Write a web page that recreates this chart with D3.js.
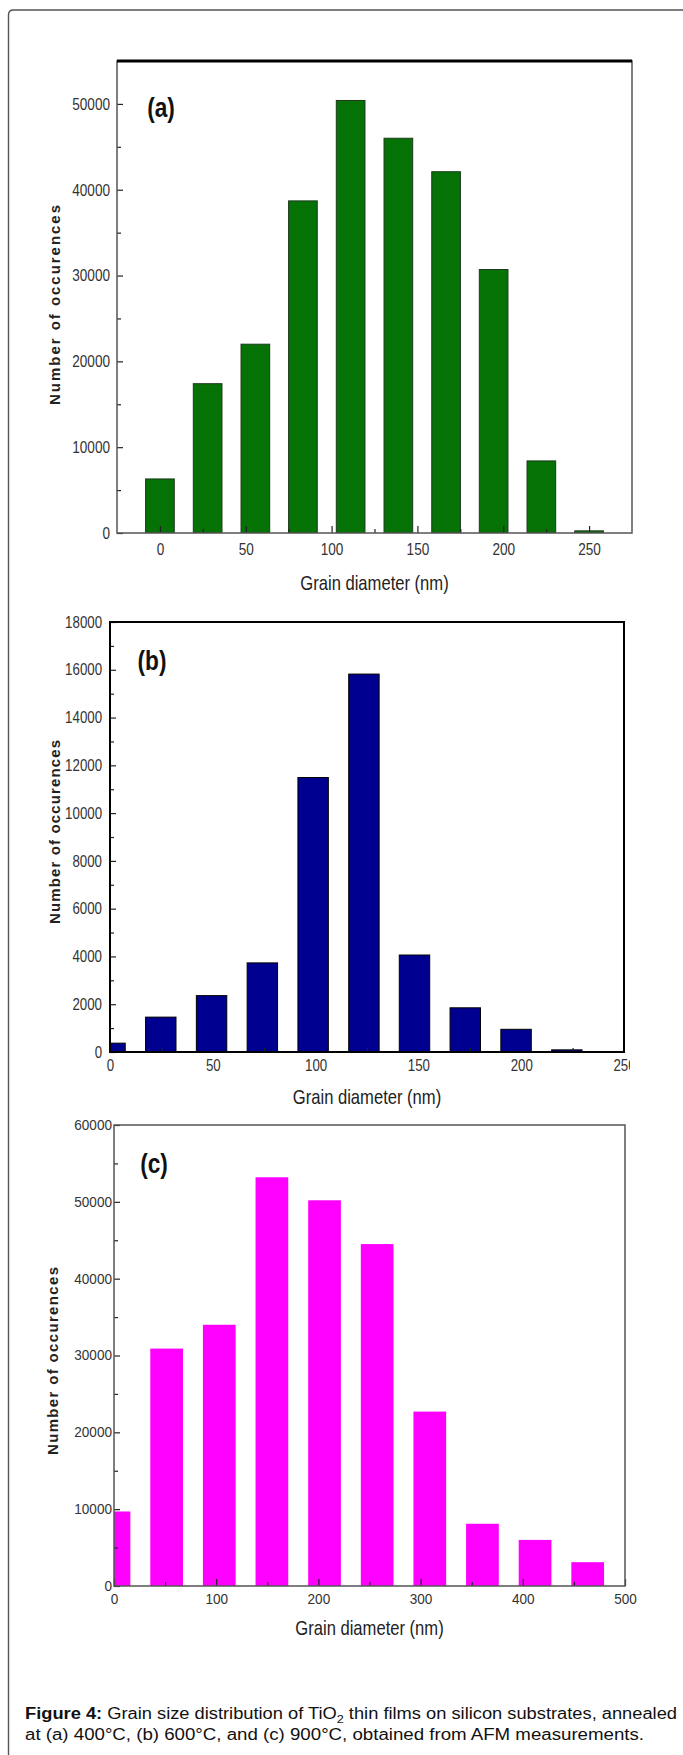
<!DOCTYPE html>
<html>
<head>
<meta charset="utf-8">
<script src="https://cdn.jsdelivr.net/npm/d3@7"></script>
<style>
  body { margin: 0; background: #fff; }
  svg { display: block; }
</style>
</head>
<body>
<div id="chart"></div>
<script>
// ---- data ----
var xA = [0, 27.8, 55.6, 83.3, 111.1, 138.9, 166.7, 194.4, 222.2, 250];
var countsA = [6300, 17400, 22000, 38700, 50400, 46000, 42100, 30700, 8400, 250];
var xTicksA = [0, 50, 100, 150, 200, 250];
var xMinorA = [25, 75, 125, 175, 225];
var yTicksA = [0, 10000, 20000, 30000, 40000, 50000];
var yMinorA = [5000, 15000, 25000, 35000, 45000];

var xB = [0, 24.7, 49.4, 74.1, 98.8, 123.5, 148.1, 172.8, 197.5, 222.2];
var countsB = [370, 1460, 2360, 3730, 11490, 15820, 4060, 1850, 950, 90];
var xTicksB = [0, 50, 100, 150, 200, 250];
var xMinorB = [25, 75, 125, 175, 225];
var yTicksB = [0, 2000, 4000, 6000, 8000, 10000, 12000, 14000, 16000, 18000];
var yMinorB = [1000, 3000, 5000, 7000, 9000, 11000, 13000, 15000, 17000];

var xC = [0, 51.5, 103, 154.5, 206, 257.5, 309, 360.5, 412, 463.5];
var countsC = [9700, 30900, 34000, 53200, 50200, 44500, 22700, 8100, 6000, 3100];
var xTicksC = [0, 100, 200, 300, 400, 500];
var xMinorC = [50, 150, 250, 350, 450];
var yTicksC = [0, 10000, 20000, 30000, 40000, 50000, 60000];
var yMinorC = [5000, 15000, 25000, 35000, 45000, 55000];

var font = "'Liberation Sans', Arial, sans-serif";

var W = 683, H = 1755;
var svg = d3.select('#chart').append('svg')
	.attr('width', W)
	.attr('height', H);

// no narrow face installed, so squeeze glyphs horizontally (keeps the anchor point)
function squeeze(sel, k) {
	sel.each(function() {
		var x = +this.getAttribute('x') || 0;
		d3.select(this)
			.attr('x', x / k)
			.attr('transform', 'scale(' + k + ',1)');
	});
}

// outer box of the figure (only left and top edges are in view)
svg.append('path')
	.attr('d', 'M8.5,' + H + ' L8.5,15 Q8.5,10 13.5,10 L' + W + ',10')
	.attr('fill', 'none')
	.attr('stroke', '#555')
	.attr('stroke-width', 1.4);

function drawPanel(p) {
	var x = d3.scaleLinear().domain(p.xDomain).range([p.left, p.right]);
	var y = d3.scaleLinear().domain(p.yDomain).range([p.bottom, p.top]);

	var clipId = 'clip' + p.name;
	svg.append('clipPath').attr('id', clipId)
		.append('rect')
			.attr('x', p.left).attr('y', p.top)
			.attr('width', p.right - p.left).attr('height', p.bottom - p.top);

	var g = svg.append('g');

	// bars
	g.append('g')
		.attr('clip-path', 'url(#' + clipId + ')')
		.selectAll('rect')
		.data(p.x)
		.enter()
		.append('rect')
			.attr('x', function(d) { return x(d - p.barWidth / 2); })
			.attr('width', function(d) { return x(d + p.barWidth / 2) - x(d - p.barWidth / 2); })
			.attr('y', function(d, i) { return y(p.counts[i]); })
			.attr('height', function(d, i) { return y(0) - y(p.counts[i]); })
			.attr('fill', p.fill)
			.attr('stroke', p.stroke)
			.attr('stroke-width', p.stroke == 'none' ? 0 : 1);

	// axes with inward ticks
	var xAxis = g.append('g')
		.attr('transform', 'translate(0,' + p.bottom + ')')
		.call(d3.axisBottom(x).tickValues(p.xTicks).tickSize(-7).tickPadding(p.xPad).tickFormat(d3.format('d')));
	g.append('g')
		.attr('transform', 'translate(0,' + p.bottom + ')')
		.call(d3.axisBottom(x).tickValues(p.xMinor).tickSize(-4).tickFormat(''));
	var yAxis = g.append('g')
		.attr('transform', 'translate(' + p.left + ',0)')
		.call(d3.axisLeft(y).tickValues(p.yTicks).tickSize(-6).tickPadding(p.yPad).tickFormat(d3.format('d')));
	g.append('g')
		.attr('transform', 'translate(' + p.left + ',0)')
		.call(d3.axisLeft(y).tickValues(p.yMinor).tickSize(-4).tickFormat(''));

	g.selectAll('.domain').remove();
	g.selectAll('.tick line').attr('stroke', '#222').attr('stroke-width', 1.2);
	[xAxis, yAxis].forEach(function(a) {
		a.selectAll('text')
			.style('font-family', font)
			.style('font-size', p.tickSize + 'px')
			.attr('fill', '#333')
			.call(squeeze, p.tickSqueeze);
	});
	if (p.labelClip) {
		svg.append('clipPath').attr('id', clipId + 'lab')
			.append('rect').attr('x', 0).attr('y', 0).attr('width', p.labelClip).attr('height', H);
		xAxis.attr('clip-path', 'url(#' + clipId + 'lab)');
	}

	// frame
	g.append('rect')
		.attr('x', p.left).attr('y', p.top)
		.attr('width', p.right - p.left).attr('height', p.bottom - p.top)
		.attr('fill', 'none')
		.attr('stroke', p.frame)
		.attr('stroke-width', p.frameWidth);
	if (p.thickTop) {
		g.append('line')
			.attr('x1', p.left).attr('x2', p.right)
			.attr('y1', p.top).attr('y2', p.top)
			.attr('stroke', '#000')
			.attr('stroke-width', 3);
	}

	// panel letter
	g.append('text')
		.attr('x', p.tagX).attr('y', p.tagY)
		.attr('text-anchor', 'middle')
		.attr('dominant-baseline', 'central')
		.style('font-family', font)
		.style('font-weight', 'bold')
		.style('font-size', '27px')
		.attr('fill', '#111')
		.text(p.tag)
		.call(squeeze, 0.84);

	// axis titles
	g.append('text')
		.attr('transform', 'translate(' + p.yTitleX + ',' + p.yTitleY + ') rotate(-90)')
		.attr('text-anchor', 'middle')
		.attr('textLength', p.yTitleLen)
		.attr('lengthAdjust', 'spacing')
		.style('font-family', font)
		.style('font-weight', 'bold')
		.style('font-size', '15px')
		.attr('fill', '#222')
		.text('Number of occurences');

	g.append('text')
		.attr('x', (p.left + p.right) / 2)
		.attr('y', p.xTitleY)
		.attr('text-anchor', 'middle')
		.style('font-family', font)
		.style('font-size', '20px')
		.attr('fill', '#222')
		.text('Grain diameter (nm)')
		.call(squeeze, 0.83);
}

drawPanel({
	name: 'a', tag: '(a)', x: xA, counts: countsA,
	xTicks: xTicksA, xMinor: xMinorA, yTicks: yTicksA, yMinor: yMinorA,
	xDomain: [-25, 275], yDomain: [0, 55000],
	left: 117, right: 632, top: 61, bottom: 533,
	barWidth: 16.7, fill: '#057205', stroke: '#1d3a1d',
	frame: '#555', frameWidth: 1.5, thickTop: true,
	tickSize: 17, tickSqueeze: 0.8, xPad: 10, yPad: 7,
	tagX: 161, tagY: 107, yTitleX: 60, yTitleY: 305, yTitleLen: 200, xTitleY: 590
});

drawPanel({
	name: 'b', tag: '(b)', x: xB, counts: countsB,
	xTicks: xTicksB, xMinor: xMinorB, yTicks: yTicksB, yMinor: yMinorB,
	xDomain: [0, 250], yDomain: [0, 18000],
	left: 110, right: 624, top: 622, bottom: 1052,
	barWidth: 14.8, fill: '#000090', stroke: '#000',
	frame: '#000', frameWidth: 2, thickTop: false,
	tickSize: 16, tickSqueeze: 0.83, xPad: 8, yPad: 8, labelClip: 630,
	tagX: 152, tagY: 660, yTitleX: 60, yTitleY: 832, yTitleLen: 184, xTitleY: 1104
});

drawPanel({
	name: 'c', tag: '(c)', x: xC, counts: countsC,
	xTicks: xTicksC, xMinor: xMinorC, yTicks: yTicksC, yMinor: yMinorC,
	xDomain: [0, 500], yDomain: [0, 60000],
	left: 114, right: 625, top: 1125, bottom: 1586,
	barWidth: 32, fill: '#ff00ff', stroke: 'none',
	frame: '#555', frameWidth: 1.5, thickTop: false,
	tickSize: 14, tickSqueeze: 0.97, xPad: 8, yPad: 2,
	tagX: 154, tagY: 1163, yTitleX: 58, yTitleY: 1361, yTitleLen: 188, xTitleY: 1635
});

// caption, two lines stretched to the widths in the figure
var l1 = svg.append('text')
	.attr('x', 25).attr('y', 1719)
	.attr('textLength', 652)
	.attr('lengthAdjust', 'spacingAndGlyphs')
	.style('font-family', font)
	.style('font-size', '16px')
	.attr('fill', '#111');
l1.append('tspan').style('font-weight', 'bold').text('Figure 4:');
l1.append('tspan').text(' Grain size distribution of TiO');
l1.append('tspan').attr('dy', 4).style('font-size', '11px').text('2');
l1.append('tspan').attr('dy', -4).text(' thin films on silicon substrates, annealed');

svg.append('text')
	.attr('x', 25).attr('y', 1740)
	.attr('textLength', 619)
	.attr('lengthAdjust', 'spacingAndGlyphs')
	.style('font-family', font)
	.style('font-size', '16px')
	.attr('fill', '#111')
	.text('at (a) 400°C, (b) 600°C, and (c) 900°C, obtained from AFM measurements.');
</script>
</body>
</html>
